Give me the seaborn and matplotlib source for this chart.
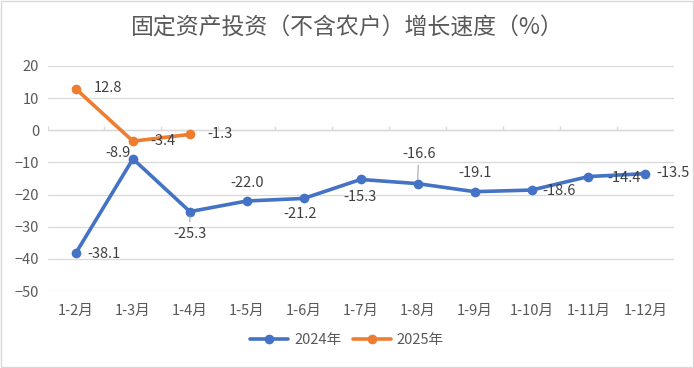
import pandas as pd
import matplotlib.pyplot as plt
import seaborn as sns
from matplotlib.patches import Rectangle

months = ['1-2月', '1-3月', '1-4月', '1-5月', '1-6月', '1-7月', '1-8月', '1-9月', '1-10月', '1-11月', '1-12月']
growth_2024 = [-38.1, -8.9, -25.3, -22.0, -21.2, -15.3, -16.6, -19.1, -18.6, -14.4, -13.5]
growth_2025 = [12.8, -3.4, -1.3]
years = ['2024年', '2025年']

# label offsets in pixels (dx, dy), dy positive = up
offs_2024 = [(28, -1), (-15, 6), (0, -22), (0, 18), (-4, -16), (-1, -18), (1, 30), (1, 19), (28, -1), (36, -1), (28, 1)]
offs_2025 = [(32, 1), (30, 0), (30, 0)]

df = pd.concat([
    pd.DataFrame({'month': months, 'value': growth_2024, 'year': years[0]}),
    pd.DataFrame({'month': months[:len(growth_2025)], 'value': growth_2025, 'year': years[1]}),
])

sns.set_style('white')
plt.rcParams['font.family'] = ['Noto Sans CJK SC', 'DejaVu Sans']

fig = plt.figure(figsize=(6.94, 3.68), dpi=100)
ax = fig.add_axes([0.0685, 0.209, 0.9025, 0.612])
colors = {'2024年': '#4472C4', '2025年': '#ED7D31'}

sns.lineplot(data=df, x='month', y='value', hue='year', palette=colors, marker='o',
             markersize=7, markeredgewidth=0, linewidth=2.6, ax=ax, sort=False)

ax.set_ylim(-50, 20)
ax.set_xlim(-0.5, len(months) - 0.5)
ax.set_yticks(range(-50, 21, 10))
ax.yaxis.grid(True, color='#D9D9D9', linewidth=0.9)
ax.set_axisbelow(True)
for s in ax.spines.values():
    s.set_visible(False)
ax.axhline(0, color='#D9D9D9', linewidth=1, zorder=1)
ax.vlines([i - 0.5 for i in range(len(months) + 1)], 0, 1.3, color='#D9D9D9', linewidth=1, zorder=1)
ax.tick_params(axis='both', length=0, labelsize=10.5, labelcolor='#595959')
ax.tick_params(axis='x', pad=9)
ax.tick_params(axis='y', pad=6)
ax.set_xlabel('')
ax.set_ylabel('')

for i, (v, o) in enumerate(zip(growth_2024, offs_2024)):
    kw = {}
    if i in (2, 6):
        kw['arrowprops'] = dict(arrowstyle='-', color='#A6A6A6', lw=0.8, shrinkA=1, shrinkB=3)
    ax.annotate(f'{v:.1f}', (i, v), xytext=o, textcoords='offset pixels', ha='center', va='center',
                fontsize=10.5, color='#404040', **kw)
for i, (v, o) in enumerate(zip(growth_2025, offs_2025)):
    ax.annotate(f'{v:.1f}', (i, v), xytext=o, textcoords='offset pixels', ha='center', va='center',
                fontsize=10.5, color='#404040')

ax.legend_.remove()
handles, labels = ax.get_legend_handles_labels()
fig.legend(handles, labels, loc='center', bbox_to_anchor=(0.5, 0.075), ncol=2, frameon=False,
           fontsize=10.5, labelcolor='#595959', handlelength=2.6, columnspacing=0.8, handletextpad=0.4)

fig.suptitle('固定资产投资（不含农户）增长速度（%）', y=0.955, fontsize=16.5, color='#595959')
fig.patches.append(Rectangle((0.002, 0.003), 0.996, 0.994, transform=fig.transFigure,
                             fill=False, edgecolor='#D9D9D9', linewidth=1))

fig.savefig('out.png', dpi=100, facecolor='white')
